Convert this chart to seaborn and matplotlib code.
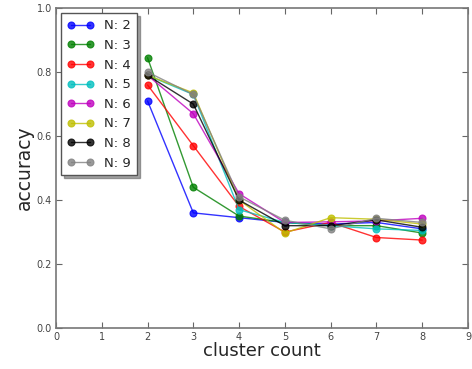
import matplotlib
matplotlib.use("Agg")
import matplotlib.pyplot as plt
import seaborn as sns
import pandas as pd

sns.set_style("ticks")
plt.rcParams['font.family'] = ['DejaVu Sans']

cluster_counts = [2, 3, 4, 5, 6, 7, 8]
series_names = ["N: 2", "N: 3", "N: 4", "N: 5", "N: 6", "N: 7", "N: 8", "N: 9"]
acc_n2 = [0.71, 0.36, 0.345, 0.33, 0.325, 0.33, 0.31]
acc_n3 = [0.845, 0.44, 0.35, 0.33, 0.32, 0.32, 0.297]
acc_n4 = [0.76, 0.57, 0.38, 0.30, 0.33, 0.283, 0.275]
acc_n5 = [0.79, 0.73, 0.37, 0.33, 0.32, 0.31, 0.305]
acc_n6 = [0.79, 0.67, 0.42, 0.33, 0.332, 0.335, 0.343]
acc_n7 = [0.79, 0.735, 0.40, 0.297, 0.345, 0.34, 0.325]
acc_n8 = [0.79, 0.70, 0.40, 0.32, 0.32, 0.338, 0.315]
acc_n9 = [0.80, 0.73, 0.41, 0.337, 0.31, 0.343, 0.33]
colors = ["#0000ff", "#008000", "#ff0000", "#00bfbf", "#bf00bf", "#bfbf00", "#000000", "#808080"]

all_acc = [acc_n2, acc_n3, acc_n4, acc_n5, acc_n6, acc_n7, acc_n8, acc_n9]
rows = []
for name, vals in zip(series_names, all_acc):
    for c, v in zip(cluster_counts, vals):
        rows.append({"cluster count": c, "accuracy": v, "N": name})
df = pd.DataFrame(rows)

fig = plt.figure(figsize=(4.72, 3.69), dpi=100)
ax = fig.add_axes([0.1186, 0.111, 0.8729, 0.867])
sns.lineplot(data=df, x="cluster count", y="accuracy", hue="N",
             palette=colors, marker="o", markersize=5, markeredgewidth=0.8,
             linewidth=1.0, ax=ax, legend=False)
for line, col in zip(ax.lines, colors):
    line.set_markeredgecolor(col)
    line.set_alpha(0.8)

ax.set_xlim(0, 9)
ax.set_ylim(0, 1.0)
ax.set_xticks(range(10))
ax.set_yticks([0.0, 0.2, 0.4, 0.6, 0.8, 1.0])
ax.set_yticklabels(["0.0", "0.2", "0.4", "0.6", "0.8", "1.0"])
ax.tick_params(direction="in", top=True, right=True, length=4, labelsize=7,
               color="#666666", labelcolor="#444444", pad=3)
for s in ax.spines.values():
    s.set_color("#777777")
    s.set_linewidth(1.2)
ax.set_xlabel("cluster count", fontsize=13, labelpad=0)
ax.set_ylabel("accuracy", fontsize=13.5, labelpad=2)

handles = ax.lines[:len(series_names)]
leg = ax.legend(handles, series_names, loc="upper left", numpoints=2,
                fancybox=False, shadow=True, fontsize=9.5, frameon=True,
                handlelength=2.0, handletextpad=0.8, labelspacing=0.5,
                borderpad=0.45, borderaxespad=0.4)
leg.get_frame().set_edgecolor("#555555")
leg.get_frame().set_linewidth(1.0)
leg.get_frame().set_facecolor("white")

fig.savefig("out.png", dpi=100)
